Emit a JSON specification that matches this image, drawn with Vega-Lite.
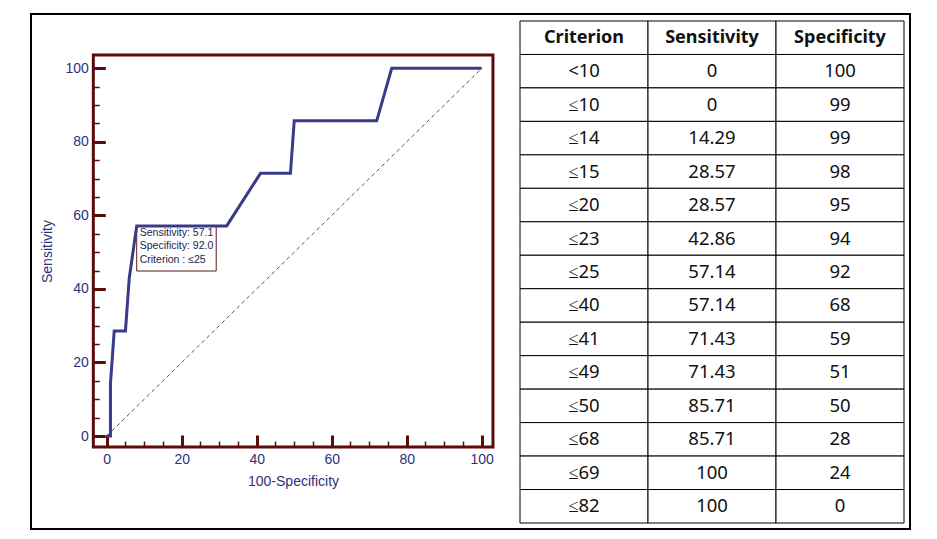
{
  "$schema": "https://vega.github.io/schema/vega-lite/v6.json",
  "width": 879,
  "height": 515,
  "autosize": {"type": "none"},
  "padding": {"left": 31, "top": 14, "right": 27, "bottom": 10},
  "background": "#ffffff",
  "config": {"view": {"stroke": "#000000", "strokeWidth": 2}},
  "datasets": {
    "roc": [
      {"Criterion": "<10", "Sensitivity": 0, "Specificity": 100},
      {"Criterion": "≤10", "Sensitivity": 0, "Specificity": 99},
      {"Criterion": "≤14", "Sensitivity": 14.29, "Specificity": 99},
      {"Criterion": "≤15", "Sensitivity": 28.57, "Specificity": 98},
      {"Criterion": "≤20", "Sensitivity": 28.57, "Specificity": 95},
      {"Criterion": "≤23", "Sensitivity": 42.86, "Specificity": 94},
      {"Criterion": "≤25", "Sensitivity": 57.14, "Specificity": 92},
      {"Criterion": "≤40", "Sensitivity": 57.14, "Specificity": 68},
      {"Criterion": "≤41", "Sensitivity": 71.43, "Specificity": 59},
      {"Criterion": "≤49", "Sensitivity": 71.43, "Specificity": 51},
      {"Criterion": "≤50", "Sensitivity": 85.71, "Specificity": 50},
      {"Criterion": "≤68", "Sensitivity": 85.71, "Specificity": 28},
      {"Criterion": "≤69", "Sensitivity": 100, "Specificity": 24},
      {"Criterion": "≤82", "Sensitivity": 100, "Specificity": 0}
    ]
  },
  "layer": [
    {
      "layer": [
        {
          "data": {"values": [{}]},
          "mark": {"type": "rect", "fill": null, "fillOpacity": 0, "stroke": "#5c0b0b", "strokeWidth": 3},
          "encoding": {
            "x": {"datum": 103.57, "type": "quantitative", "scale": {"domain": [120.19, -114.21], "nice": false, "zero": false},
              "axis": {"orient": "bottom", "offset": -82, "values": [0,5,10,15,20,25,30,35,40,45,50,55,60,65,70,75,80,85,90,95,100], "domain": false, "labels": false, "grid": false, "title": null, "tickSize": -6, "tickWidth": 1.5, "tickColor": "#5c0b0b"}},
            "x2": {"datum": -3.0},
            "y": {"datum": -2.99, "type": "quantitative", "scale": {"domain": [-25.29, 114.77], "nice": false, "zero": false},
              "axis": {"orient": "left", "offset": -62.3, "values": [0,5,10,15,20,25,30,35,40,45,50,55,60,65,70,75,80,85,90,95,100], "domain": false, "labels": false, "grid": false, "title": null, "tickSize": -6, "tickWidth": 1.5, "tickColor": "#5c0b0b"}},
            "y2": {"datum": 103.6}
          }
        },
        {
          "data": {"values": [{}]},
          "mark": {"type": "rule", "stroke": "#555555", "strokeWidth": 1, "strokeDash": [4, 3]},
          "encoding": {
            "x": {"datum": 100, "type": "quantitative", "scale": {"domain": [120.19, -114.21], "nice": false, "zero": false},
              "axis": {"orient": "bottom", "offset": -82, "values": [0,20,40,60,80,100], "domain": false, "labels": false, "grid": false, "title": null, "tickSize": -12, "tickWidth": 3, "tickColor": "#5c0b0b"}},
            "x2": {"datum": 0},
            "y": {"datum": 0, "type": "quantitative", "scale": {"domain": [-25.29, 114.77], "nice": false, "zero": false},
              "axis": {"orient": "left", "offset": -62.3, "values": [0,20,40,60,80,100], "domain": false, "labels": false, "grid": false, "title": null, "tickSize": -12, "tickWidth": 3, "tickColor": "#5c0b0b"}},
            "y2": {"datum": 100}
          }
        },
        {
          "data": {"values": [{}]},
          "mark": {"type": "rect", "fill": "#ffffff", "stroke": "#5a1a1a", "strokeWidth": 1},
          "encoding": {
            "x": {"datum": 92, "type": "quantitative", "scale": {"domain": [120.19, -114.21], "nice": false, "zero": false}, "axis": null},
            "x2": {"datum": 70.8},
            "y": {"datum": 57.14, "type": "quantitative", "scale": {"domain": [-25.29, 114.77], "nice": false, "zero": false}, "axis": null},
            "y2": {"datum": 44.87}
          }
        },
        {
          "data": {"name": "roc"},
          "mark": {"type": "line", "stroke": "#3a3a8a", "strokeWidth": 3},
          "encoding": {
            "x": {"field": "Specificity", "type": "quantitative", "scale": {"domain": [120.19, -114.21], "nice": false, "zero": false},
              "axis": {"orient": "bottom", "offset": -82, "values": [0,20,40,60,80,100], "labelExpr": "100 - datum.value", "domain": false, "ticks": false, "grid": false, "labelFlush": false, "labelPadding": 5, "labelFont": "Liberation Sans", "labelFontSize": 14, "labelColor": "#30307a",
                "title": "100-Specificity", "titleFont": "Liberation Sans", "titleFontSize": 14, "titleFontWeight": "normal", "titleColor": "#30307a", "titleX": 262, "titleY": 27, "titleBaseline": "top", "titleAlign": "center"}},
            "y": {"field": "Sensitivity", "type": "quantitative", "scale": {"domain": [-25.29, 114.77], "nice": false, "zero": false},
              "axis": {"orient": "left", "offset": -62.3, "values": [0,20,40,60,80,100], "domain": false, "ticks": false, "grid": false, "labelFlush": false, "labelPadding": 5, "labelFont": "Liberation Sans", "labelFontSize": 14, "labelColor": "#30307a",
                "title": "Sensitivity", "titleFont": "Liberation Sans", "titleFontSize": 14, "titleFontWeight": "normal", "titleColor": "#30307a", "titleX": -46, "titleY": 237, "titleAngle": 270, "titleBaseline": "middle", "titleAlign": "center"}},
            "order": {"value": null}
          }
        },
        {
          "data": {"values": [{}]},
          "mark": {"type": "text", "text": ["Sensitivity: 57.1", "Specificity: 92.0", "Criterion : ≤25"], "align": "left", "baseline": "top", "dx": 3, "dy": 2, "lineHeight": 13.5, "font": "Liberation Sans", "fontSize": 10.5, "color": "#222250"},
          "encoding": {
            "x": {"datum": 92, "type": "quantitative", "scale": {"domain": [120.19, -114.21], "nice": false, "zero": false}, "axis": null},
            "y": {"datum": 57.14, "type": "quantitative", "scale": {"domain": [-25.29, 114.77], "nice": false, "zero": false}, "axis": null}
          }
        }
      ],
      "resolve": {"axis": {"x": "independent", "y": "independent"}}
    },
    {
      "layer": [
        {
          "data": {"name": "roc"},
          "transform": [{"fold": ["Criterion", "Sensitivity", "Specificity"], "as": ["col", "val"]}],
          "mark": {"type": "rect", "fill": "#ffffff", "stroke": "#000000", "strokeWidth": 1},
          "encoding": {
            "x": {"field": "col", "type": "nominal", "scale": {"domain": ["Criterion", "Sensitivity", "Specificity"], "range": [489, 873], "paddingInner": 0, "paddingOuter": 0}, "axis": null},
            "y": {"field": "Criterion", "type": "nominal", "scale": {"domain": ["Criterion", "<10", "≤10", "≤14", "≤15", "≤20", "≤23", "≤25", "≤40", "≤41", "≤49", "≤50", "≤68", "≤69", "≤82"], "paddingInner": 0, "paddingOuter": 0.194, "align": 0.538}, "axis": null}
          }
        },
        {
          "data": {"name": "roc"},
          "transform": [{"fold": ["Criterion", "Sensitivity", "Specificity"], "as": ["col", "val"]}],
          "mark": {"type": "text", "font": "Noto Sans", "fontSize": 18.5, "color": "#111111", "baseline": "middle", "align": "center"},
          "encoding": {
            "x": {"field": "col", "type": "nominal", "scale": {"domain": ["Criterion", "Sensitivity", "Specificity"], "range": [489, 873], "paddingInner": 0, "paddingOuter": 0}, "axis": null},
            "y": {"field": "Criterion", "type": "nominal", "scale": {"domain": ["Criterion", "<10", "≤10", "≤14", "≤15", "≤20", "≤23", "≤25", "≤40", "≤41", "≤49", "≤50", "≤68", "≤69", "≤82"], "paddingInner": 0, "paddingOuter": 0.194, "align": 0.538}, "axis": null},
            "text": {"field": "val", "type": "nominal"}
          }
        },
        {
          "data": {"values": [{"col": "Criterion"}, {"col": "Sensitivity"}, {"col": "Specificity"}]},
          "mark": {"type": "rect", "fill": "#ffffff", "stroke": "#000000", "strokeWidth": 1},
          "encoding": {
            "x": {"field": "col", "type": "nominal", "scale": {"domain": ["Criterion", "Sensitivity", "Specificity"], "range": [489, 873], "paddingInner": 0, "paddingOuter": 0}, "axis": null},
            "y": {"datum": "Criterion", "type": "nominal", "scale": {"domain": ["Criterion", "<10", "≤10", "≤14", "≤15", "≤20", "≤23", "≤25", "≤40", "≤41", "≤49", "≤50", "≤68", "≤69", "≤82"], "paddingInner": 0, "paddingOuter": 0.194, "align": 0.538}, "axis": null}
          }
        },
        {
          "data": {"values": [{"col": "Criterion"}, {"col": "Sensitivity"}, {"col": "Specificity"}]},
          "mark": {"type": "text", "font": "Noto Sans", "fontSize": 18, "fontWeight": "bold", "color": "#111111", "baseline": "middle", "align": "center"},
          "encoding": {
            "x": {"field": "col", "type": "nominal", "scale": {"domain": ["Criterion", "Sensitivity", "Specificity"], "range": [489, 873], "paddingInner": 0, "paddingOuter": 0}, "axis": null},
            "y": {"datum": "Criterion", "type": "nominal", "scale": {"domain": ["Criterion", "<10", "≤10", "≤14", "≤15", "≤20", "≤23", "≤25", "≤40", "≤41", "≤49", "≤50", "≤68", "≤69", "≤82"], "paddingInner": 0, "paddingOuter": 0.194, "align": 0.538}, "axis": null},
            "text": {"field": "col", "type": "nominal"}
          }
        }
      ]
    }
  ],
  "resolve": {"scale": {"x": "independent", "y": "independent"}}
}
